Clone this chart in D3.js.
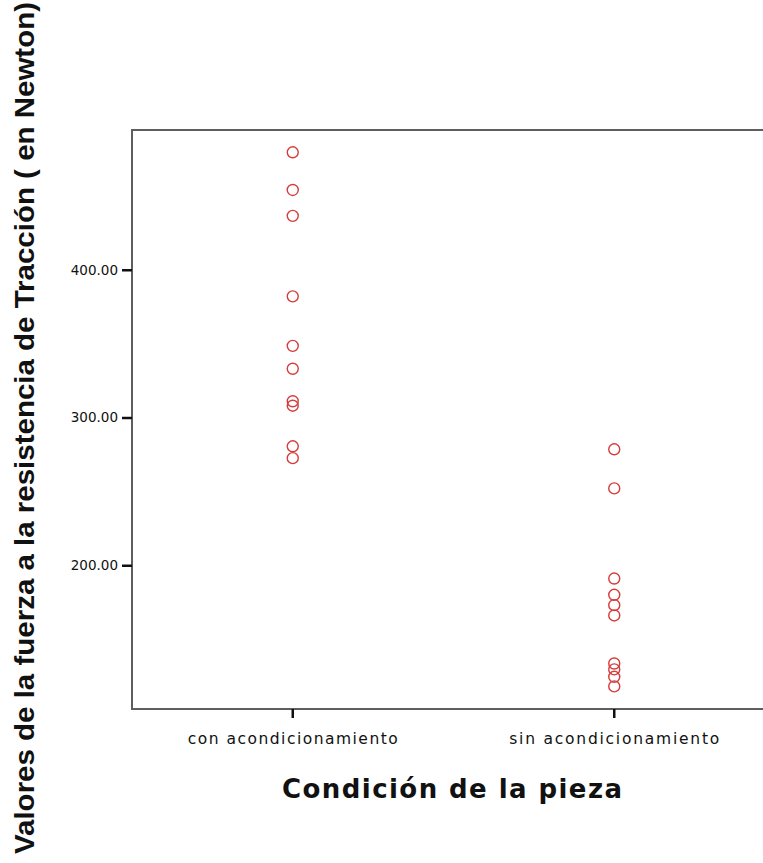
<!DOCTYPE html>
<html>
<head>
<meta charset="utf-8">
<script src="https://d3js.org/d3.v7.min.js"></script>
<style>
  body { margin: 0; background: #fff; }
</style>
</head>
<body>
<div id="scatter"></div>
<script>
// data
var categories = ["con acondicionamiento", "sin acondicionamiento"];
var conValues = [479.5, 454, 436.5, 382, 348.5, 333, 311, 308, 280.5, 272.5];
var sinValues = [278.5, 252, 191, 180, 173, 166, 133.5, 129.5, 124.5, 118];
var yTicks = [200, 300, 400];
var xTitle = "Condición de la pieza";
var yTitle = "Valores de la fuerza a la resistencia de Tracción ( en Newton)";

var width = 763,
    height = 863;

// plot frame
var frame = {left: 132, right: 775, top: 130, bottom: 709};

var svg = d3.select("#scatter")
  .append("svg")
    .attr("width", width)
    .attr("height", height);

svg.append("rect")
  .attr("width", width)
  .attr("height", height)
  .attr("fill", "#fff");

// scales
var x = d3.scaleBand()
  .domain(categories)
  .range([frame.left, frame.right]);

var y = d3.scaleLinear()
  .domain([102.7, 494.6])
  .range([frame.bottom, frame.top]);

// frame
svg.append("rect")
  .attr("x", frame.left)
  .attr("y", frame.top)
  .attr("width", frame.right - frame.left)
  .attr("height", frame.bottom - frame.top)
  .attr("fill", "none")
  .attr("stroke", "#5e5e5e")
  .attr("stroke-width", 2);

// Y axis
var yAxis = svg.append("g")
  .attr("transform", "translate(" + frame.left + ",0)")
  .call(d3.axisLeft(y)
    .tickValues(yTicks)
    .tickSize(10)
    .tickPadding(4)
    .tickFormat(d3.format(".2f")));
yAxis.select(".domain").remove();
yAxis.selectAll(".tick line")
  .attr("stroke", "#111")
  .attr("stroke-width", 2.5);
yAxis.selectAll(".tick text")
  .attr("fill", "#111")
  .style("font-family", "'DejaVu Sans', sans-serif")
  .style("font-size", "13.5px");

// X axis
var xAxis = svg.append("g")
  .attr("transform", "translate(0," + frame.bottom + ")")
  .call(d3.axisBottom(x)
    .tickSize(9)
    .tickPadding(15));
xAxis.select(".domain").remove();
xAxis.selectAll(".tick line")
  .attr("stroke", "#111")
  .attr("stroke-width", 2.5);
xAxis.selectAll(".tick text")
  .attr("fill", "#111")
  .attr("textLength", 210)
  .style("font-family", "'DejaVu Sans', sans-serif")
  .style("font-size", "15.5px");

// points
var points = [];
conValues.forEach(function(v) { points.push({cat: categories[0], value: v}); });
sinValues.forEach(function(v) { points.push({cat: categories[1], value: v}); });

svg.append("g")
  .selectAll("circle")
  .data(points)
  .enter()
  .append("circle")
    .attr("cx", function(d) { return x(d.cat) + x.bandwidth() / 2; })
    .attr("cy", function(d) { return y(d.value); })
    .attr("r", 5.5)
    .attr("fill", "none")
    .attr("stroke", "#d63c3c")
    .attr("stroke-width", 1.4);

// axis titles
svg.append("text")
  .attr("x", 452)
  .attr("y", 798)
  .attr("text-anchor", "middle")
  .attr("textLength", 340)
  .style("font-family", "'DejaVu Sans', sans-serif")
  .style("font-size", "26px")
  .style("font-weight", "bold")
  .attr("fill", "#111")
  .text(xTitle);

svg.append("text")
  .attr("transform", "translate(34,428) rotate(-90)")
  .attr("text-anchor", "middle")
  .attr("textLength", 852)
  .attr("lengthAdjust", "spacingAndGlyphs")
  .style("font-family", "'Liberation Sans Narrow', 'Liberation Sans', Arial, sans-serif")
  .style("font-size", "28px")
  .style("font-weight", "bold")
  .attr("fill", "#111")
  .text(yTitle);
</script>
</body>
</html>
